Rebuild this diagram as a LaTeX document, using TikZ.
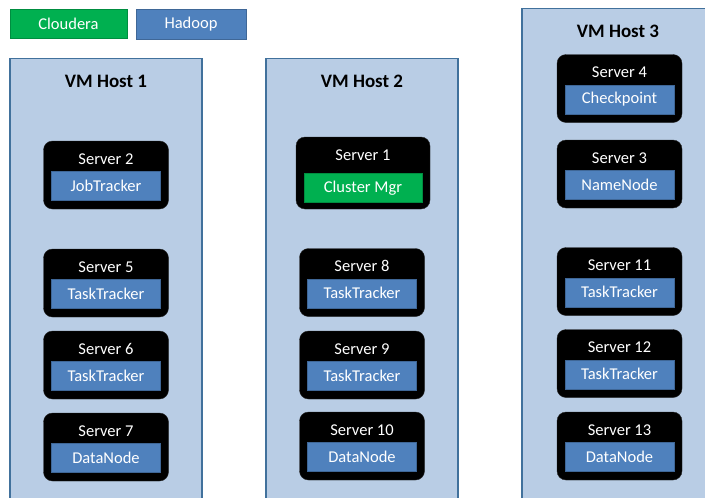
\documentclass[tikz,border=0pt]{standalone}
\usepackage{fontspec}
\setmainfont{Carlito}
\usetikzlibrary{positioning}
\definecolor{hostfill}{HTML}{B9CDE5}
\definecolor{hostline}{HTML}{41719C}
\definecolor{hadoopblue}{HTML}{4F81BD}
\definecolor{clouderagreen}{HTML}{00B050}

\begin{document}
\begin{tikzpicture}[x=1pt,y=-1pt,
    host/.style={draw=hostline,line width=1.2pt,fill=hostfill,minimum width=192pt,minimum height=520pt,anchor=north,inner sep=0pt},
    hosttitle/.style={font=\fontsize{19}{22}\selectfont\bfseries,text=black},
    srv/.style={fill=black,draw=black!85,rounded corners=9pt,minimum width=125pt,minimum height=68pt,inner sep=0pt},
    srvlbl/.style={text=white,font=\fontsize{16.5}{18}\selectfont},
    role/.style={draw=hadoopblue!80!black,fill=hadoopblue,text=white,font=\fontsize{16.5}{18}\selectfont,minimum width=109pt,minimum height=29pt,inner sep=0pt},
    hadoop/.style={role},
    cloudera/.style={role,draw=clouderagreen!80!black,fill=clouderagreen}]

    \clip (0,0) rectangle (705,498);
    \fill[white] (0,0) rectangle (705,498);

    % legend
    \node[cloudera,minimum width=117pt] (legc) at (68.5,24) {Cloudera};
    \node[hadoop,minimum width=110pt,minimum height=30pt] (legh) at (191,24) {Hadoop};

    % hosts
    \node[host] (h1) at (106,58) {};
    \node[host] (h2) at (362,58) {};
    \node[host] (h3) at (618,8) {};
    \node[hosttitle] at ([yshift=-23pt]h1.north) {VM Host 1};
    \node[hosttitle] at ([yshift=-23pt]h2.north) {VM Host 2};
    \node[hosttitle] at ([yshift=-23pt]h3.north) {VM Host 3};

    % servers
    \foreach \n/\x/\y/\r in {2/106/175/JobTracker, 5/106/283/TaskTracker, 6/106/365/TaskTracker, 7/106/447/DataNode,
                             8/362/282.5/TaskTracker, 9/362/365/TaskTracker, 10/362/446/DataNode,
                             4/619.5/88.5/Checkpoint, 3/619.5/174/NameNode, 11/619.5/281.5/TaskTracker,
                             12/619.5/363.5/TaskTracker, 13/619.5/446/DataNode}{
        \node[srv] (s\n) at (\x,\y) {};
        \node[srvlbl] (l\n) at ([yshift=-18pt]s\n.north) {Server \n};
        \node[hadoop] (r\n) at ([yshift=-45pt]s\n.north) {\r};
    }

    % cluster manager
    \node[srv,minimum width=134pt,minimum height=72pt] (s1) at (363,173) {};
    \node[srvlbl] (l1) at ([yshift=-18pt]s1.north) {Server 1};
    \node[cloudera,minimum width=118pt] (r1) at ([yshift=-51pt]s1.north) {Cluster Mgr};
\end{tikzpicture}
\end{document}
